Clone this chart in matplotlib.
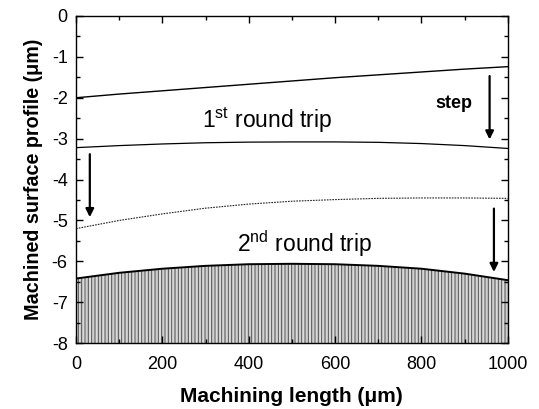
import matplotlib
matplotlib.use('Agg')
import matplotlib.pyplot as plt
import numpy as np

plt.rcParams['font.family'] = ['Liberation Sans', 'DejaVu Sans']
plt.rcParams['axes.unicode_minus'] = False

# machined profiles read along the length (um)
length = [0, 100, 200, 300, 400, 500, 600, 700, 800, 900, 1000]
pass_1_top = [-2.00, -1.91, -1.83, -1.75, -1.67, -1.59, -1.51, -1.44, -1.37, -1.30, -1.24]
pass_1_bottom = [-3.22, -3.17, -3.13, -3.10, -3.085, -3.08, -3.08, -3.09, -3.12, -3.17, -3.24]
pass_2_top = [-5.20, -5.00, -4.84, -4.70, -4.60, -4.53, -4.49, -4.46, -4.45, -4.45, -4.46]
pass_2_bottom = [-6.42, -6.28, -6.18, -6.11, -6.07, -6.06, -6.07, -6.11, -6.18, -6.30, -6.46]

# step arrows: (x, y_start, y_end)
arrows = [(32, -3.38, -4.92), (958, -1.47, -3.02), (968, -4.71, -6.26)]

fig = plt.figure(figsize=(5.39, 4.09), dpi=100)
ax = fig.add_axes([0.141, 0.161, 0.801, 0.800])

ax.plot(length, pass_1_top, color='black', lw=1.0)
ax.plot(length, pass_1_bottom, color='black', lw=0.9)
ax.plot(length, pass_2_top, color='#222222', lw=0.8, ls=(0, (1.5, 1.0)))

# remaining workpiece material
plt.rcParams['hatch.linewidth'] = 0.5
ax.fill_between(length, pass_2_bottom, -8, facecolor='white',
                edgecolor='#b8b8b8', hatch='|' * 14, lw=0)
plt.rcParams['hatch.linewidth'] = 0.7
ax.fill_between(length, pass_2_bottom, -8, facecolor='none',
                edgecolor='#505050', hatch='|' * 5, lw=0)
ax.plot(length, pass_2_bottom, color='black', lw=1.4)

for x, y0, y1 in arrows:
    ax.annotate('', xy=(x, y1), xytext=(x, y0),
                arrowprops=dict(arrowstyle='-|>', color='black', lw=1.6,
                                mutation_scale=12, shrinkA=0, shrinkB=0))

ax.text(442, -2.55, r'1$^{\mathregular{st}}$ round trip', fontsize=16.5,
        ha='center', va='center')
ax.text(530, -5.56, r'2$^{\mathregular{nd}}$ round trip', fontsize=16.5,
        ha='center', va='center')
ax.text(876, -2.13, 'step', fontsize=13, fontweight='bold',
        ha='center', va='center')

ax.set_xlim(0, 1000)
ax.set_ylim(-8, 0)
ax.set_xticks(np.arange(0, 1001, 200))
ax.set_xticks(np.arange(0, 1001, 100), minor=True)
ax.set_yticks(np.arange(-8, 0.1, 1))
ax.set_yticks(np.arange(-8, 0.1, 0.5), minor=True)
ax.tick_params(which='both', direction='in', top=True, right=True, labelsize=13, width=1)
ax.tick_params(axis='x', which='major', pad=9)
ax.tick_params(axis='y', which='major', pad=6)
ax.tick_params(which='major', length=5)
ax.tick_params(which='minor', length=3)
for s in ax.spines.values():
    s.set_linewidth(1.0)

ax.set_xlabel('Machining length (\u03bcm)', fontsize=15, fontweight='bold', labelpad=10)
ax.set_ylabel('Machined surface profile (\u03bcm)', fontsize=14.2, fontweight='bold', labelpad=6)

fig.savefig('out.png', dpi=100)
